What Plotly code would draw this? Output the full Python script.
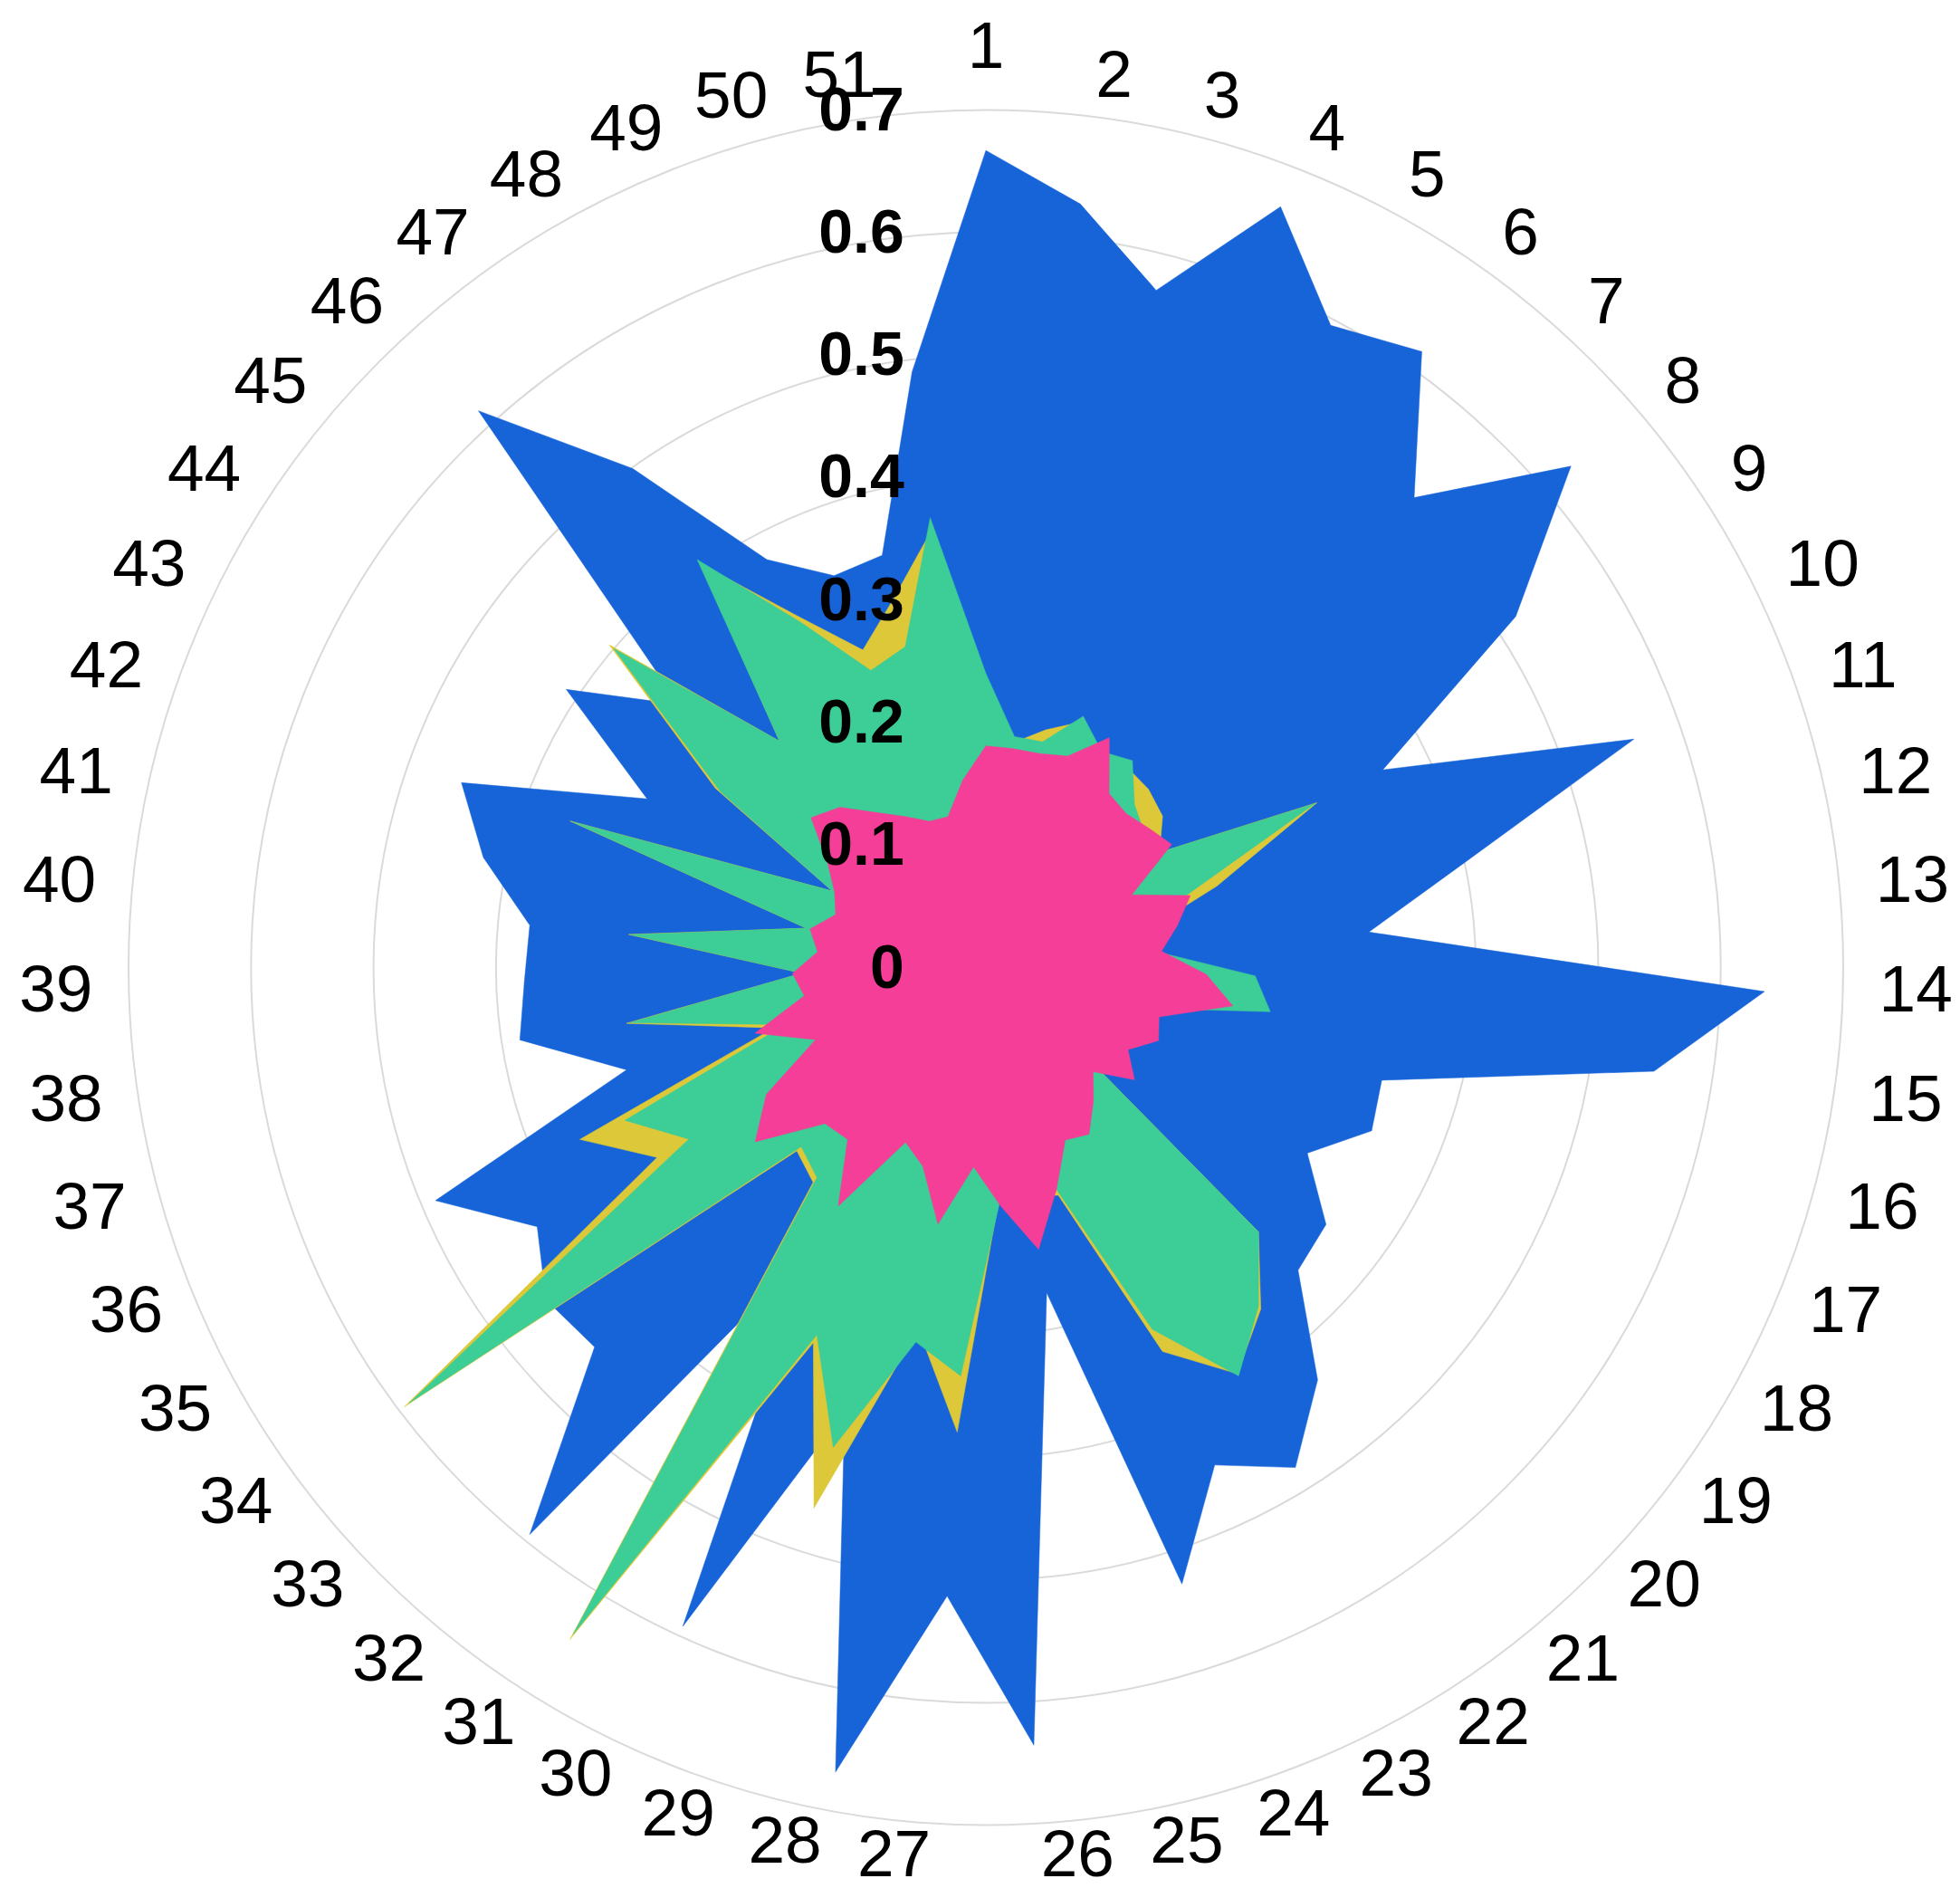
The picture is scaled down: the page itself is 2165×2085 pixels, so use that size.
import plotly.graph_objects as go

categories = [str(i) for i in range(1, 52)]

blue = [0.667, 0.628, 0.570, 0.666, 0.595, 0.616, 0.519, 0.629, 0.519, 0.362,
        0.561, 0.400, 0.314, 0.636, 0.552, 0.336, 0.342, 0.303, 0.348, 0.355,
        0.432, 0.480, 0.447, 0.528, 0.270, 0.636, 0.514, 0.668, 0.380, 0.592,
        0.270, 0.594, 0.445, 0.450, 0.423, 0.488, 0.305, 0.385, 0.377, 0.374,
        0.420, 0.454, 0.309, 0.411, 0.330, 0.615, 0.499, 0.378, 0.343, 0.347,
        0.490]

yellow = [0.235, 0.185, 0.200, 0.215, 0.200, 0.200, 0.197, 0.190, 0.170, 0.302,
          0.200, 0.130, 0.135, 0.215, 0.230, 0.115, 0.105, 0.095, 0.050, 0.310,
          0.358, 0.390, 0.345, 0.195, 0.190, 0.185, 0.380, 0.300, 0.463, 0.337,
          0.645, 0.225, 0.215, 0.595, 0.310, 0.360, 0.180, 0.297, 0.150, 0.293,
          0.150, 0.360, 0.140, 0.265, 0.405, 0.250, 0.404, 0.326, 0.278, 0.310,
          0.360]

green = [0.240, 0.190, 0.190, 0.220, 0.200, 0.207, 0.180, 0.170, 0.170, 0.300,
         0.170, 0.130, 0.140, 0.220, 0.235, 0.120, 0.110, 0.100, 0.050, 0.310,
         0.355, 0.392, 0.325, 0.190, 0.190, 0.190, 0.334, 0.311, 0.411, 0.330,
         0.640, 0.220, 0.210, 0.590, 0.280, 0.320, 0.170, 0.294, 0.150, 0.291,
         0.150, 0.357, 0.140, 0.260, 0.400, 0.250, 0.408, 0.320, 0.260, 0.270,
         0.370]

pink = [0.181, 0.180, 0.180, 0.185, 0.213, 0.174, 0.170, 0.175, 0.182, 0.133,
        0.177, 0.160, 0.144, 0.180, 0.204, 0.147, 0.153, 0.134, 0.152, 0.122,
        0.140, 0.160, 0.155, 0.190, 0.234, 0.195, 0.163, 0.213, 0.170, 0.157,
        0.229, 0.180, 0.183, 0.236, 0.207, 0.151, 0.196, 0.150, 0.158, 0.138,
        0.147, 0.130, 0.138, 0.155, 0.188, 0.177, 0.155, 0.140, 0.128, 0.127,
        0.154]

radial_ticks = [0, 0.1, 0.2, 0.3, 0.4, 0.5, 0.6, 0.7]
radial_text = ["0", "0.1", "0.2", "0.3", "0.4", "0.5", "0.6", "0.7"]

series = [
    ("blue", blue, "#1764D9"),
    ("yellow", yellow, "#DCC838"),
    ("green", green, "#3DCD97"),
    ("pink", pink, "#F43E97"),
]

FONT = "Arial, Liberation Sans, sans-serif"

# layout geometry (pixels)
W, H = 2165, 2085
CX, CY = 1081, 1060.5          # centre of the polar plot (from top-left)
R_OUTER = 947                  # pixel radius of the 0.7 ring
R_MAX = 0.735                  # radial range end (a little beyond 0.7 for labels)
R_DOM = R_OUTER * R_MAX / 0.7
cy_b = H - CY

fig = go.Figure()
for name, vals, col in series:
    fig.add_trace(go.Scatterpolar(
        r=vals + vals[:1],
        theta=categories + categories[:1],
        mode="lines",
        fill="toself",
        fillcolor=col,
        line=dict(color=col, width=0.5),
        name=name,
        hoverinfo="skip",
    ))

# category labels around the circle, just outside the outer ring
n = len(categories)
label_r = 0.7296
label_r_top = 0.7207   # the label straight above sits a touch lower to stay in the page
positions = []
label_radii = []
for i in range(n):
    if i == 0:
        positions.append("top center")
        label_radii.append(label_r_top)
    elif i * 360.0 / n < 180:
        positions.append("middle right")
        label_radii.append(label_r)
    else:
        positions.append("middle left")
        label_radii.append(label_r)

fig.add_trace(go.Scatterpolar(
    r=label_radii,
    theta=categories,
    mode="text",
    text=categories,
    textposition=positions,
    textfont=dict(size=73, color="black", family=FONT),
    cliponaxis=False,
    hoverinfo="skip",
    showlegend=False,
))

fig.update_layout(
    width=W,
    height=H,
    margin=dict(l=0, r=0, t=0, b=0),
    paper_bgcolor="white",
    showlegend=False,
    font=dict(family=FONT, color="black"),
    polar=dict(
        domain=dict(x=[(CX - R_DOM) / W, (CX + R_DOM) / W],
                    y=[(cy_b - R_DOM) / H, (cy_b + R_DOM) / H]),
        bgcolor="white",
        angularaxis=dict(
            type="category",
            categoryarray=categories,
            rotation=90,
            direction="clockwise",
            showgrid=False,
            showline=False,
            ticks="",
            showticklabels=False,
        ),
        radialaxis=dict(
            range=[0, R_MAX],
            tickvals=radial_ticks,
            ticktext=radial_text,
            angle=90,
            tickangle=90,
            side="counterclockwise",
            showline=False,
            showgrid=True,
            gridcolor="#DADADA",
            gridwidth=2,
            ticks="outside",
            ticklen=66,
            tickcolor="rgba(0,0,0,0)",
            tickfont=dict(size=68, color="black", weight="bold", family=FONT),
            layer="above traces",
        ),
    ),
)

fig.write_html("out.html")
